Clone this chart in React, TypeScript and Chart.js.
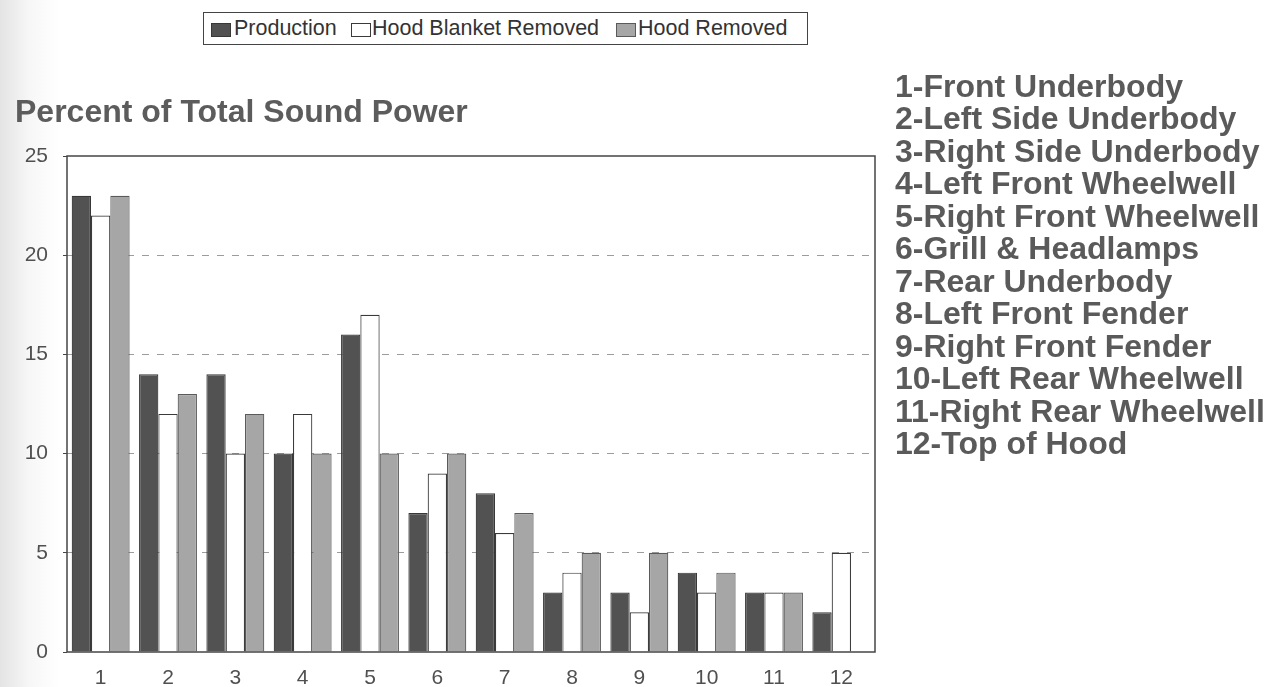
import React, { useEffect, useRef } from "react";
import { Chart, registerables } from "chart.js";

Chart.register(...registerables);

const categories = ["1", "2", "3", "4", "5", "6", "7", "8", "9", "10", "11", "12"];
const production = [23, 14, 14, 10, 16, 7, 8, 3, 3, 4, 3, 2];
const hoodBlanketRemoved = [22, 12, 10, 12, 17, 9, 6, 4, 2, 3, 3, 5];
const hoodRemoved: (number | null)[] = [23, 13, 12, 10, 10, 10, 7, 5, 5, 4, 3, null];
const yTicks = [0, 5, 10, 15, 20, 25];
const seriesNames = ["Production", "Hood Blanket Removed", "Hood Removed"];
const chartTitle = "Percent of Total Sound Power";
const areaLabels = [
  "1-Front Underbody",
  "2-Left Side Underbody",
  "3-Right Side Underbody",
  "4-Left Front Wheelwell",
  "5-Right Front Wheelwell",
  "6-Grill & Headlamps",
  "7-Rear Underbody",
  "8-Left Front Fender",
  "9-Right Front Fender",
  "10-Left Rear Wheelwell",
  "11-Right Rear Wheelwell",
  "12-Top of Hood",
];

const FONT = "Arial, 'Liberation Sans', sans-serif";
const seriesFill = ["#525252", "#ffffff", "#a6a6a6"];
const seriesBorder = ["#383838", "#3a3a3a", "#5a5a5a"];

const framePlugin = {
  id: "frame",
  afterDraw(chart: any) {
    const { ctx, chartArea } = chart;
    ctx.save();
    ctx.strokeStyle = "#454545";
    ctx.lineWidth = 1.5;
    ctx.setLineDash([]);
    ctx.strokeRect(chartArea.left, chartArea.top, chartArea.right - chartArea.left, chartArea.bottom - chartArea.top);
    ctx.restore();
  },
};

export default function App() {
  const canvasRef = useRef<HTMLCanvasElement | null>(null);

  useEffect(() => {
    if (!canvasRef.current) return;
    const datasets = [production, hoodBlanketRemoved, hoodRemoved].map((d, i) => ({
      label: seriesNames[i],
      data: d,
      backgroundColor: seriesFill[i],
      borderColor: seriesBorder[i],
      borderWidth: 1.2,
      categoryPercentage: 0.86,
      barPercentage: 1,
    }));
    const chart = new Chart(canvasRef.current, {
      type: "bar",
      data: { labels: categories, datasets },
      plugins: [framePlugin],
      options: {
        animation: false,
        responsive: false,
        maintainAspectRatio: false,
        layout: { padding: { left: 0, top: 156, right: 396, bottom: 0 } },
        plugins: {
          legend: { display: false },
          title: { display: false },
          tooltip: { enabled: false },
        },
        scales: {
          x: {
            grid: { display: false, drawTicks: false },
            border: { display: false },
            ticks: { font: { family: FONT, size: 21 }, color: "#505050", padding: 14 },
            afterFit: (s: any) => {
              s.height = 35;
            },
          },
          y: {
            min: 0,
            max: 25,
            afterBuildTicks: (s: any) => {
              s.ticks = yTicks.map((v) => ({ value: v }));
            },
            ticks: { font: { family: FONT, size: 21 }, color: "#505050", padding: 15 },
            grid: {
              color: (c: any) =>
                c.tick && (c.tick.value === 0 || c.tick.value === 25) ? "rgba(0,0,0,0)" : "#9c9c9c",
              lineWidth: 1,
              drawTicks: true,
              tickLength: 4,
              tickColor: "#454545",
              tickBorderDash: [],
            },
            border: { display: false, dash: [7, 8] },
            afterFit: (s: any) => {
              s.width = 67;
            },
          },
        },
      },
    });
    return () => chart.destroy();
  }, []);

  const keyStyle = (i: number, left: number): React.CSSProperties => ({
    position: "absolute",
    left,
    top: 23,
    width: 20,
    height: 14,
    boxSizing: "border-box",
    background: seriesFill[i],
    border: `1px solid ${seriesBorder[i]}`,
  });
  const legendText = (left: number): React.CSSProperties => ({
    position: "absolute",
    left,
    top: 18,
    fontFamily: FONT,
    fontSize: 21.5,
    lineHeight: "21.5px",
    color: "#333",
    whiteSpace: "nowrap",
  });

  return (
    <div
      style={{
        position: "fixed",
        left: 0,
        top: 0,
        width: 1271,
        height: 687,
        background: "linear-gradient(to right, #e4e4e4 0px, #f7f7f7 30px, #ffffff 60px)",
        overflow: "hidden",
      }}
    >
      <canvas ref={canvasRef} width={1271} height={687} style={{ position: "absolute", left: 0, top: 0 }} />
      <div
        style={{
          position: "absolute",
          left: 203,
          top: 12,
          width: 605,
          height: 33,
          boxSizing: "border-box",
          border: "1.5px solid #444",
          background: "#fff",
        }}
      />
      <div style={keyStyle(0, 211)} />
      <div style={legendText(234)}>{seriesNames[0]}</div>
      <div style={keyStyle(1, 351)} />
      <div style={legendText(372)}>{seriesNames[1]}</div>
      <div style={keyStyle(2, 616)} />
      <div style={legendText(638)}>{seriesNames[2]}</div>
      <div
        style={{
          position: "absolute",
          left: 15,
          top: 95,
          fontFamily: FONT,
          fontWeight: "bold",
          fontSize: 32,
          lineHeight: "32px",
          color: "#5c5c5c",
          whiteSpace: "nowrap",
        }}
      >
        {chartTitle}
      </div>
      <div
        style={{
          position: "absolute",
          left: 895,
          top: 70,
          fontFamily: FONT,
          fontWeight: "bold",
          fontSize: 32,
          lineHeight: "32.45px",
          color: "#5a5a5a",
          whiteSpace: "nowrap",
        }}
      >
        {areaLabels.map((t) => (
          <div key={t}>{t}</div>
        ))}
      </div>
    </div>
  );
}
